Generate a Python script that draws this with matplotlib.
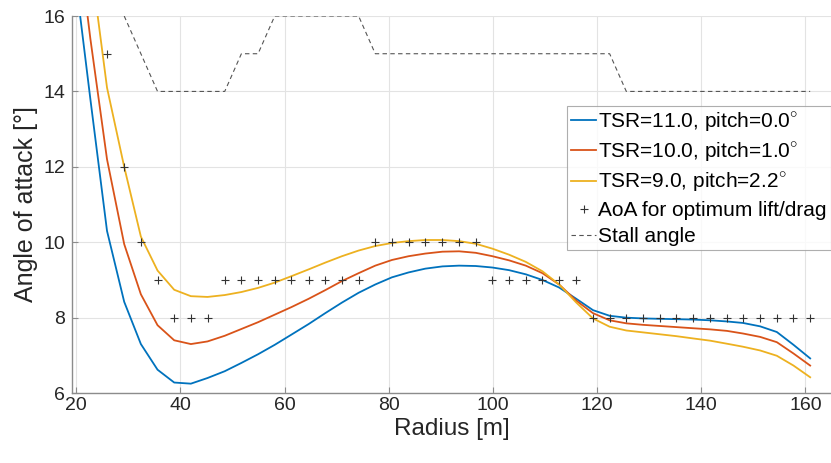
import numpy as np
import matplotlib.pyplot as plt

plt.rcParams['font.family'] = ['Liberation Sans', 'DejaVu Sans']
plt.rcParams['mathtext.fontset'] = 'custom'
plt.rcParams['mathtext.rm'] = 'Liberation Sans'

# radius stations [m]
radius = [19.5, 22.7, 25.9, 29.2, 32.4, 35.6, 38.8, 42.0, 45.2, 48.5, 51.7, 54.9, 58.1,
          61.3, 64.6, 67.8, 71.0, 74.2, 77.4, 80.6, 83.8, 87.0, 90.3, 93.5, 96.7, 99.9,
          103.1, 106.3, 109.5, 112.7, 116.0, 119.2, 122.4, 125.6, 128.8, 132.0, 135.2,
          138.4, 141.7, 144.9, 148.0, 151.3, 154.5, 157.7, 160.9]

# angle of attack [deg]
aoa_tsr11 = [17.4, 13.8, 10.3, 8.42, 7.30, 6.62, 6.28, 6.25, 6.40, 6.58, 6.80, 7.03, 7.28,
             7.55, 7.83, 8.12, 8.40, 8.66, 8.88, 9.07, 9.20, 9.30, 9.36, 9.38, 9.37, 9.33,
             9.26, 9.15, 9.00, 8.80, 8.50, 8.20, 8.05, 8.00, 7.98, 7.97, 7.96,
             7.95, 7.93, 7.90, 7.86, 7.77, 7.62, 7.28, 6.92]
aoa_tsr10 = [19.0, 15.4, 12.2, 9.95, 8.62, 7.80, 7.40, 7.30, 7.37, 7.52, 7.70, 7.88, 8.08,
             8.28, 8.50, 8.73, 8.97, 9.18, 9.38, 9.53, 9.63, 9.70, 9.75, 9.76, 9.72, 9.63,
             9.52, 9.38, 9.18, 8.88, 8.45, 8.12, 7.93, 7.85, 7.81, 7.78, 7.75,
             7.72, 7.69, 7.65, 7.58, 7.49, 7.35, 7.05, 6.73]
aoa_tsr9 = [21.0, 17.5, 14.1, 12.0, 10.15, 9.25, 8.74, 8.57, 8.55, 8.60, 8.68, 8.79, 8.93,
            9.10, 9.28, 9.46, 9.63, 9.78, 9.90, 9.98, 10.03, 10.06, 10.06, 10.03, 9.96, 9.83,
            9.67, 9.48, 9.23, 8.88, 8.40, 7.98, 7.76, 7.66, 7.61, 7.56, 7.51,
            7.45, 7.39, 7.31, 7.23, 7.13, 6.99, 6.73, 6.42]

# optimum lift/drag AoA and stall angle (from 25.9 m)
r_opt = radius[2:]
aoa_opt = [15, 12, 10, 9, 8, 8, 8, 9, 9, 9, 9, 9, 9, 9, 9, 9,
           10, 10, 10, 10, 10, 10, 10, 9, 9, 9, 9, 9, 9,
           8, 8, 8, 8, 8, 8, 8, 8, 8, 8, 8, 8, 8, 8]
r_stall = radius[3:]
stall = [16, 15, 14, 14, 14, 14, 14, 15, 15, 16, 16, 16, 16, 16, 16,
         15, 15, 15, 15, 15, 15, 15, 15, 15, 15, 15, 15, 15, 15, 15,
         14, 14, 14, 14, 14, 14, 14, 14, 14, 14, 14, 14]

fig = plt.figure(figsize=(8.31, 4.63), dpi=100)
ax = fig.add_axes([0.0866, 0.151, 0.9134, 0.8144])

ax.plot(radius, aoa_tsr11, color='#0072BD', lw=1.3, label=r'TSR=11.0, pitch=0.0$^{\circ}$')
ax.plot(radius, aoa_tsr10, color='#D95319', lw=1.3, label=r'TSR=10.0, pitch=1.0$^{\circ}$')
ax.plot(radius, aoa_tsr9, color='#EDB120', lw=1.3, label=r'TSR=9.0, pitch=2.2$^{\circ}$')
ax.plot(r_opt, aoa_opt, '+', color='#333333', ms=6, mew=0.8, label='AoA for optimum lift/drag')
ax.plot(r_stall, stall, '--', color='#555555', lw=0.8, dashes=(4, 3), label='Stall angle')

ax.set_xlim(19.17, 164.9)
ax.set_ylim(6, 16)
ax.set_xticks(range(20, 161, 20))
ax.set_yticks(range(6, 17, 2))
ax.grid(True, color='#e3e3e3', lw=0.8)
ax.set_axisbelow(True)
for s in ['top', 'right']:
    ax.spines[s].set_visible(False)
for s in ['left', 'bottom']:
    ax.spines[s].set_color('#8c8c8c')
    ax.spines[s].set_linewidth(1.0)
ax.tick_params(direction='in', length=4, color='#8c8c8c', labelsize=14, labelcolor='#262626')
ax.tick_params(axis='x', pad=3)
ax.tick_params(axis='y', pad=5)

ax.set_xlabel('Radius [m]', fontsize=17.5, color='#262626', labelpad=3)
ax.set_ylabel('Angle of attack [°]', fontsize=18, color='#262626', labelpad=4)

leg = ax.legend(loc='upper right', bbox_to_anchor=(1.0, 0.761), fontsize=15,
                handlelength=1.2, handletextpad=0.1, labelspacing=0.33,
                borderpad=0.2, borderaxespad=0, frameon=True, fancybox=False)
leg.get_frame().set_edgecolor('#9a9a9a')
leg.get_frame().set_linewidth(0.8)

fig.savefig('out.png', dpi=100)
